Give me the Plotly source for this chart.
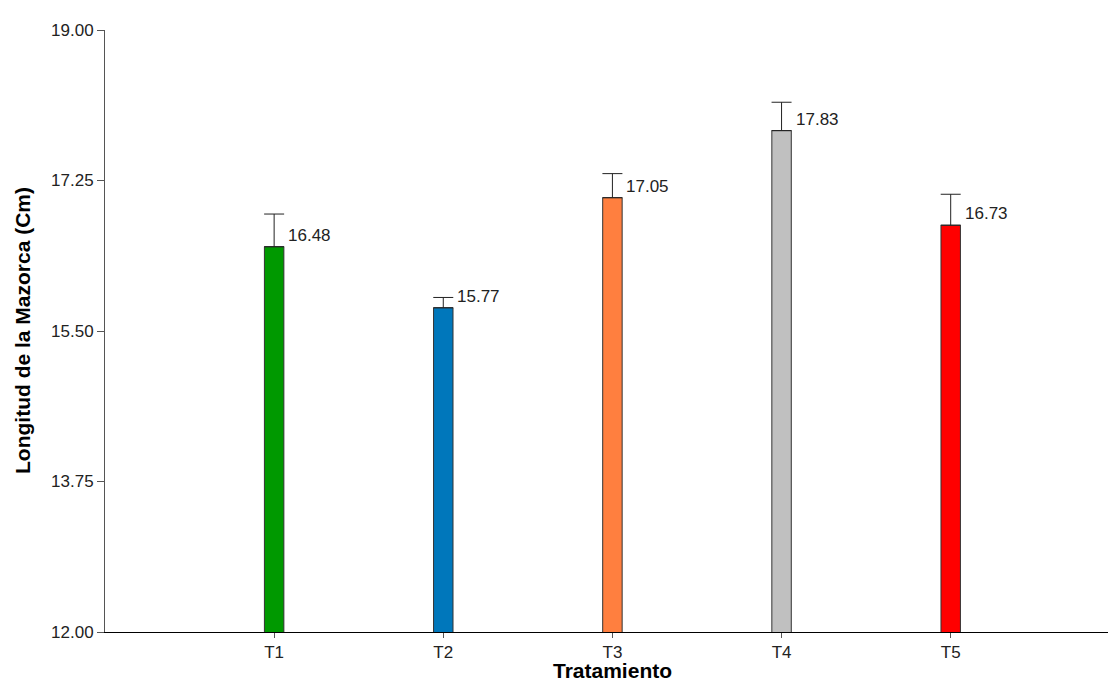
import plotly.graph_objects as go

# Mean ear length per treatment, with upper error bars
tratamientos = ["T1", "T2", "T3", "T4", "T5"]
longitud = [16.48, 15.77, 17.05, 17.83, 16.73]
error_sup = [0.38, 0.12, 0.28, 0.33, 0.36]
colores = ["#009900", "#0077BB", "#FF7F3F", "#C0C0C0", "#FF0000"]

y_ticks = [12.00, 13.75, 15.50, 17.25, 19.00]

FONT = "Liberation Sans, Arial, sans-serif"

fig = go.Figure()
fig.add_trace(go.Bar(
    x=list(range(len(tratamientos))),
    y=longitud,
    width=0.115,
    marker=dict(color=colores, line=dict(color="#333333", width=1)),
    error_y=dict(type="data", symmetric=False, array=error_sup,
                 arrayminus=[0] * len(error_sup),
                 color="#222222", thickness=1, width=10),
    base=0,
    showlegend=False,
))

# Value labels beside each bar top
for i, v in enumerate(longitud):
    fig.add_annotation(
        x=i, y=v, text=f"{v:.2f}", showarrow=False,
        xanchor="left", yanchor="bottom", xshift=12, yshift=0,
        font=dict(family=FONT, size=17, color="#222222"),
    )

# Axis titles
fig.add_annotation(
    xref="paper", yref="paper", x=0.5, y=0, xshift=6, yshift=-38,
    xanchor="center", yanchor="middle", showarrow=False,
    text="<b>Tratamiento</b>", borderpad=0,
    font=dict(family=FONT, size=21, color="#000000"),
)
fig.add_annotation(
    xref="paper", yref="paper", x=0, y=0.5, xshift=-83,
    xanchor="center", yanchor="middle", showarrow=False, textangle=-90,
    text="<b>Longitud de la Mazorca (Cm)</b>",
    font=dict(family=FONT, size=21, color="#000000"),
)

fig.update_layout(
    width=1110, height=682,
    margin=dict(l=105, r=2, t=30, b=50),
    plot_bgcolor="white", paper_bgcolor="white",
    font=dict(family=FONT, size=17, color="#222222"),
    xaxis=dict(
        range=[-1.0, 4.93],
        tickmode="array", tickvals=list(range(len(tratamientos))),
        ticktext=tratamientos,
        tickfont=dict(family=FONT, size=17, color="#222222"),
        showline=True, linecolor="#000000", linewidth=1,
        ticks="outside", ticklen=5, tickcolor="#555555",
        showgrid=False, zeroline=False, automargin=False,
    ),
    yaxis=dict(
        range=[12, 19],
        tickmode="array", tickvals=y_ticks,
        ticktext=[f"{t:.2f}" for t in y_ticks],
        tickfont=dict(family=FONT, size=17, color="#222222"),
        showline=True, linecolor="#555555", linewidth=1,
        ticks="outside", ticklen=7, tickcolor="#555555",
        showgrid=False, zeroline=False, automargin=False,
    ),
)

fig.write_html("out.html")
